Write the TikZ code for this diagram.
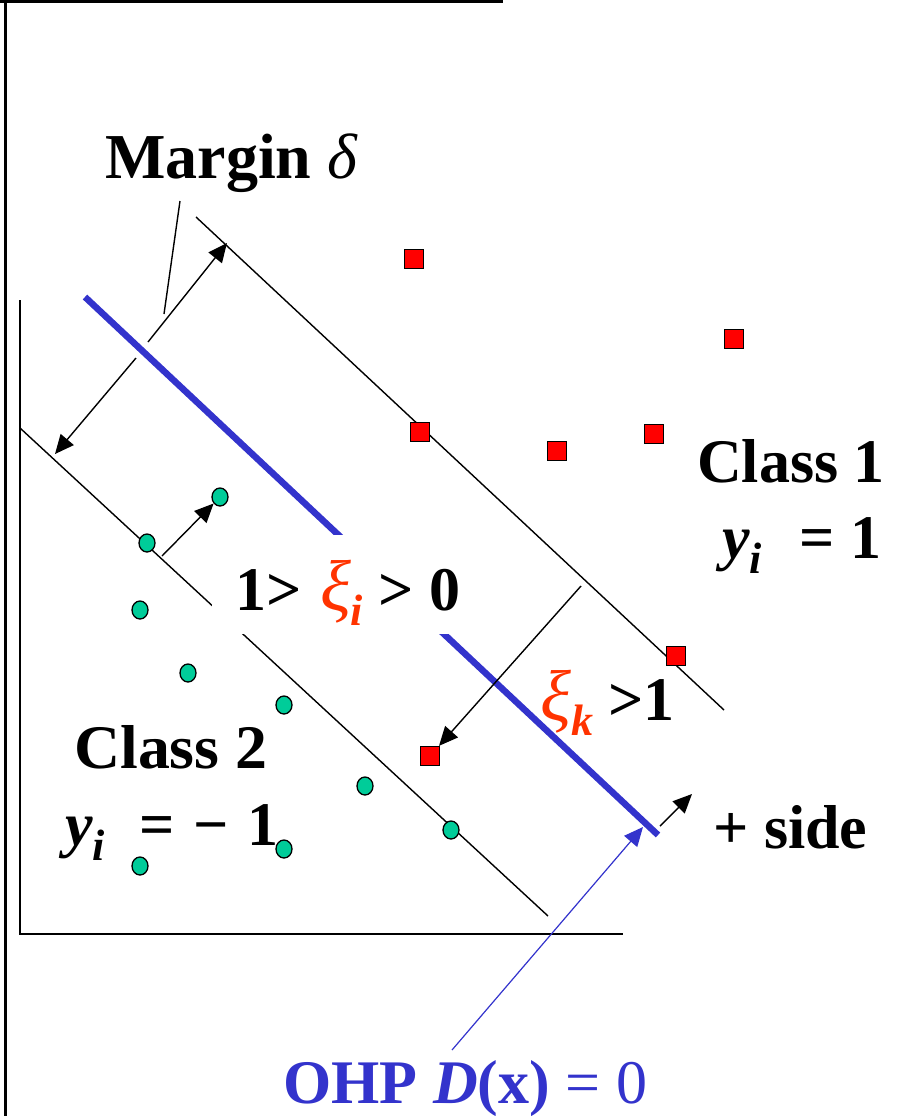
\documentclass[tikz,border=0pt]{standalone}
\usepackage{fontspec}
\setmainfont{Liberation Serif}
\usetikzlibrary{shapes.geometric, arrows.meta, positioning}
\definecolor{ohpblue}{RGB}{51, 51, 204}
\definecolor{xired}{RGB}{255, 51, 0}
\definecolor{ptgreen}{RGB}{0, 204, 153}
\newcommand{\sbi}[1]{\raisebox{-0.25em}{\fontsize{44}{44}\selectfont\textit{#1}}}
\newcommand{\bigxi}{{\fontsize{72}{72}\selectfont\mdseries\itshape ξ}}

\begin{document}
\begin{tikzpicture}[x=1pt, y=-1pt]
            \tikzstyle{sq} = [rectangle, draw=black, line width=1.3pt, fill=red, minimum size=19pt, inner sep=0pt]
            \tikzstyle{dot} = [ellipse, draw=black, line width=1.3pt, fill=ptgreen, minimum width=16pt, minimum height=18pt, inner sep=0pt]
            \tikzstyle{lbl} = [anchor=base west, inner sep=0pt, font=\bfseries\fontsize{62}{66}\selectfont]
            \tikzstyle{rule} = [line width=1.4pt]
            \tikzstyle{arrow} = [line width=1.4pt, -{Triangle[length=19pt, width=17pt]}]

            \useasboundingbox (0,0) rectangle (901,1116);

            % frame and axes
            \draw[line width=3pt] (0,1.5) -- (503,1.5);
            \draw[line width=3pt] (5.5,0) -- (5.5,1116);
            \draw[line width=2pt] (20,300) -- (20,934) -- (623,934);

            % margin lines and hyperplane
            \draw[rule] (196,217) -- (724,710);
            \draw[rule] (20,428) -- (548,916);
            \draw[ohpblue, line width=6.5pt] (85,297) -- (658,835);

            % class 1
            \node[sq] (r1) at (414,259) {};
            \node[sq] (r2) at (734,339) {};
            \node[sq] (r3) at (420,432) {};
            \node[sq] (r4) at (557,451) {};
            \node[sq] (r5) at (654,434) {};
            \node[sq] (r6) at (676,656) {};
            \node[sq] (r7) at (430,756) {};

            % class 2
            \node[dot] (g1) at (220,497) {};
            \node[dot] (g2) at (147,543) {};
            \node[dot] (g3) at (140,610) {};
            \node[dot] (g4) at (188,673) {};
            \node[dot] (g5) at (284,705) {};
            \node[dot] (g6) at (365,786) {};
            \node[dot] (g7) at (451,830) {};
            \node[dot] (g8) at (284,849) {};
            \node[dot] (g9) at (140,866) {};

            \coordinate (m0) at (180,201);
            \coordinate (m1) at (164,314);
            \coordinate (mu0) at (148,342);
            \coordinate (mu1) at (227,243);
            \coordinate (ml0) at (136,358);
            \coordinate (ml1) at (55,454);
            \coordinate (s0) at (162,556);
            \coordinate (k0) at (581,586);
            \coordinate (p0) at (660,826);
            \coordinate (p1) at (692,794);
            \coordinate (o0) at (452,1050);
            \coordinate (o1) at (643,827);

            \fill[white] (212,535) rectangle (470,634);

            \node[lbl, font=\bfseries\fontsize{64}{68}\selectfont] (margin) at (105,178) {Margin {\mdseries\itshape δ}};
            \node[lbl] (class1) at (697,482) {Class 1};
            \node[lbl] (y1) at (722,558) {\textit{y}\sbi{i}\hspace{0.6em}= 1};
            \node[lbl] (xii) at (235,610) {1>\hspace{0.3em}{\color{xired}\bigxi\sbi{i}} > 0};
            \node[lbl] (xik) at (540,720) {{\color{xired}\bigxi\sbi{k}} >1};
            \node[lbl, xscale=1.03] (class2) at (74,768) {Class 2};
            \node[lbl] (y2) at (65,845) {\textit{y}\sbi{i}\hspace{0.55em}=\hspace{0.3em}−\hspace{0.3em}1};
            \node[lbl] (side) at (713,848) {+ side};
            \node[lbl, text=ohpblue] (ohp) at (283,1103) {OHP \textit{D}(x) {\mdseries = 0}};

            \draw[rule] (m0) -- (m1);
            \draw[arrow] (mu0) -- (mu1);
            \draw[arrow] (ml0) -- (ml1);
            \draw[arrow] (s0) -- (g1);
            \draw[arrow] (k0) -- (r7);
            \draw[arrow] (p0) -- (p1);
            \draw[arrow, ohpblue, line width=1.2pt] (o0) -- (o1);
        \end{tikzpicture}
\end{document}
